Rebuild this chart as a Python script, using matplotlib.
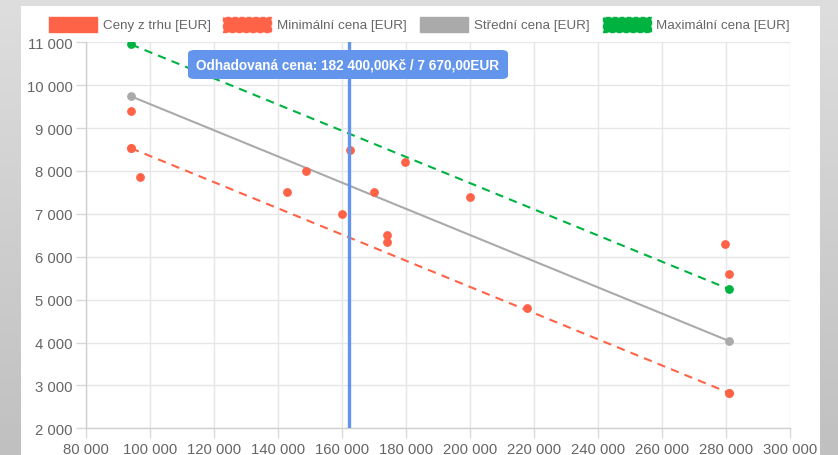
import matplotlib
matplotlib.use("Agg")
import matplotlib.pyplot as plt
import numpy as np
from matplotlib.patches import Rectangle, FancyBboxPatch
from matplotlib.ticker import FuncFormatter, MultipleLocator

plt.rcParams['font.family'] = ['Liberation Sans', 'DejaVu Sans']

# ---- data ----
market_x = [94000, 94000, 96900, 142800, 148750, 159800, 162300, 169800, 173900, 173900,
            179600, 199900, 217800, 279800, 280800, 280800]
market_y = [9400, 8530, 7850, 7500, 8000, 7000, 8500, 7500, 6500, 6350,
            8200, 7400, 4800, 6300, 5600, 2830]
line_x = [94000, 280800]
min_y = [8530, 2830]
mid_y = [9740, 4040]
max_y = [10950, 5250]
estimate_x = 162000
tooltip_text = "Odhadovaná cena: 182 400,00Kč / 7 670,00EUR"
legend_labels = ["Ceny z trhu [EUR]", "Minimální cena [EUR]", "Střední cena [EUR]", "Maximální cena [EUR]"]

RED = "#ff6347"
GREEN = "#00b341"
GRAY = "#aaaaaa"
BLUE = "#6495ed"
TXT = "#666666"

W, H = 838, 456
fig = plt.figure(figsize=(W / 100, H / 100), dpi=100)

# background gradient
bg = fig.add_axes([0, 0, 1, 1], zorder=-10)
grad = np.linspace(0, 1, 256).reshape(-1, 1)
c_top = np.array([0xde, 0xde, 0xde]) / 255
c_bot = np.array([0xc0, 0xc0, 0xc0]) / 255
img = c_top[None, None, :] * (1 - grad[:, :, None]) + c_bot[None, None, :] * grad[:, :, None]
bg.imshow(img, aspect='auto', extent=[0, 1, 0, 1], origin='upper')
bg.set_xlim(0, 1); bg.set_ylim(0, 1)
bg.axis('off')
# white panel
bg.add_patch(Rectangle((21 / W, 0), (820 - 21) / W, 1 - 7 / H, facecolor='white', edgecolor='none'))

def px(x):
    return x / W

def py(y):
    return 1 - y / H

left, right, top, bottom = 86.3, 790.0, 43.3, 429.3
ax = fig.add_axes([px(left), py(bottom), px(right) - px(left), py(top) - py(bottom)])
ax.set_facecolor('none')
ax.set_xlim(80000, 300000)
ax.set_ylim(2000, 11000)
ax.xaxis.set_major_locator(MultipleLocator(20000))
ax.yaxis.set_major_locator(MultipleLocator(1000))
fmt = FuncFormatter(lambda v, p: f"{int(v):,}".replace(",", " "))
ax.xaxis.set_major_formatter(fmt)
ax.yaxis.set_major_formatter(fmt)
ax.grid(True, color='#e6e6e6', linewidth=1.0)
ax.set_axisbelow(True)
for s in ['top', 'right']:
    ax.spines[s].set_visible(False)
for s in ['left', 'bottom']:
    ax.spines[s].set_color('#d0d0d0')
    ax.spines[s].set_linewidth(1.0)
ax.tick_params(axis='both', colors='#d8d8d8', labelcolor=TXT, labelsize=10.7, length=7, width=1)
ax.tick_params(axis='x', pad=3)
ax.tick_params(axis='y', pad=3)

ms = 5.3
lw = 1.5
ax.plot(line_x, max_y, color=GREEN, lw=lw, dashes=(4, 3), marker='o', ms=ms, mec=GREEN, mfc=GREEN, zorder=3)
ax.plot(line_x, mid_y, color=GRAY, lw=lw, marker='o', ms=ms, mec=GRAY, mfc=GRAY, zorder=3)
ax.plot(line_x, min_y, color=RED, lw=lw, dashes=(4, 3), marker='o', ms=ms, mec=RED, mfc=RED, zorder=3)
ax.plot(market_x, market_y, linestyle='none', marker='o', ms=ms, color=RED, zorder=4)
ax.axvline(estimate_x, color=BLUE, lw=2.4, zorder=5)

# tooltip
tx0, tx1, ty0, ty1 = 188, 508, 51, 80
bg_tip = FancyBboxPatch((px(tx0), py(ty1)), px(tx1) - px(tx0), py(ty0) - py(ty1),
                        boxstyle="round,pad=0,rounding_size=0.008",
                        transform=fig.transFigure, facecolor=BLUE, edgecolor='none', zorder=20)
fig.add_artist(bg_tip)
fig.text(px((tx0 + tx1) / 2), py((ty0 + ty1) / 2), tooltip_text, color='white', fontsize=9.8,
         fontweight='bold', ha='center', va='center', zorder=21)

# legend
boxes = [(48.5, 103), (222.7, 277), (420, 474), (602.7, 656)]
colors = [RED, RED, GRAY, GREEN]
dashed = [False, True, False, True]
by0, by1 = 18, 33
for (bx, tx), col, d, lab in zip(boxes, colors, dashed, legend_labels):
    r = Rectangle((px(bx), py(by1)), px(48), py(by0) - py(by1), transform=fig.transFigure,
                  facecolor=col, edgecolor=col, linewidth=1.0,
                  linestyle=(0, (3, 2)) if d else '-', zorder=10)
    fig.add_artist(r)
    fig.text(px(tx), py((by0 + by1) / 2), lab, color=TXT, fontsize=9.6, ha='left', va='center')

fig.savefig("out.png", dpi=100)
